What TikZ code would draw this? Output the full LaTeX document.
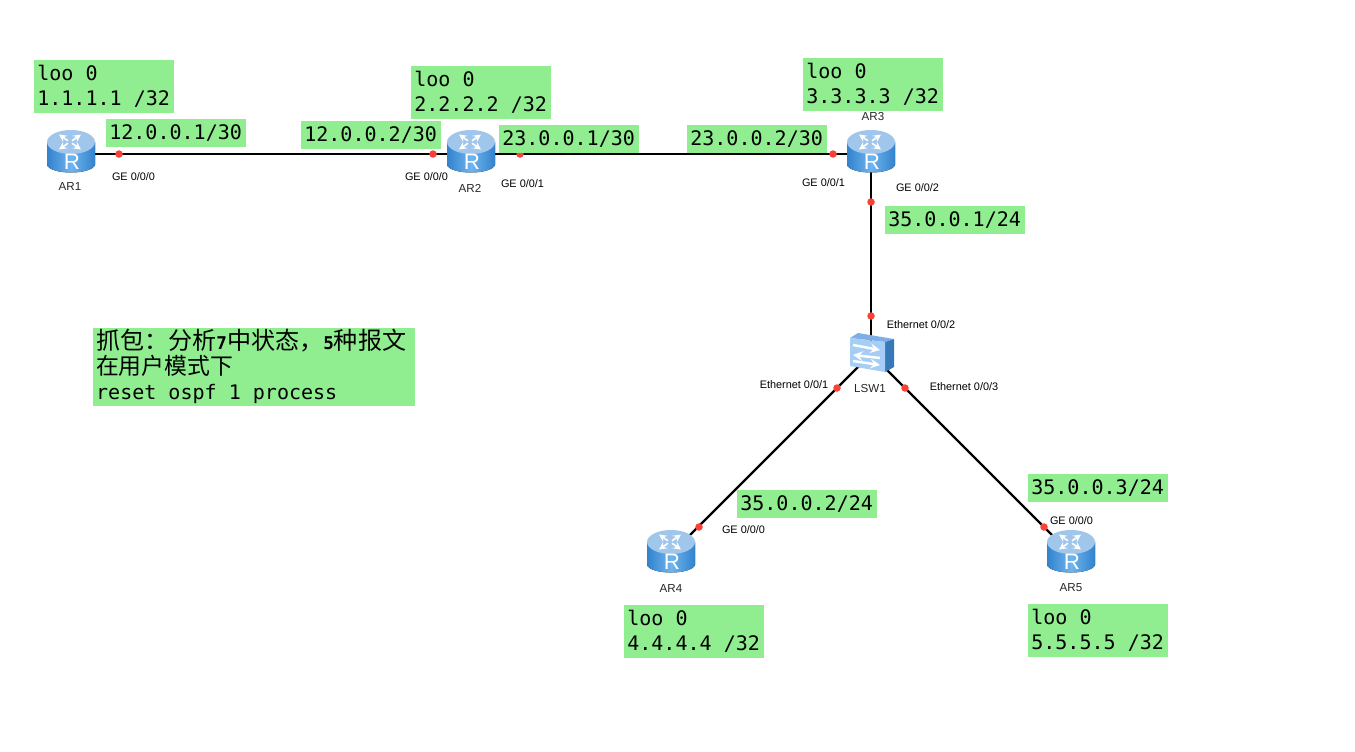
\documentclass[tikz,border=0pt]{standalone}
\usepackage{fontspec}
\setmainfont{Liberation Sans}
\setmonofont{DejaVu Sans Mono}
\newfontfamily\cjk{Noto Sans CJK SC}
\usepackage{tikz}
\definecolor{boxgreen}{RGB}{144,238,144}
\definecolor{portred}{RGB}{250,65,55}
\definecolor{routertop}{RGB}{160,198,235}
\definecolor{routerdark}{RGB}{50,130,205}
\definecolor{routerlight}{RGB}{110,180,238}
\definecolor{switchfront}{RGB}{165,205,245}
\definecolor{switchtop}{RGB}{125,175,230}
\definecolor{switchside}{RGB}{55,120,185}
\tikzset{
    pics/routericon/.style={code={
        \fill[left color=routerdark, right color=routerdark, middle color=routerlight]
            (-24,-12) -- (-24,11) .. controls (-20,21) and (20,21) .. (24,11) -- (24,-12) -- cycle;
        \fill[routertop] (0,-12) ellipse [x radius=0.48cm, y radius=0.24cm];
        \foreach \sx/\sy in {1/1,1/-1,-1/1,-1/-1}
            \draw[white, line width=0.9pt, ->, >=stealth] ({-1+2*\sx},{-12+1.2*\sy}) -- ({-1+11*\sx},{-12+7.5*\sy});
        \node[text=white, inner sep=0pt, font=\fontsize{12.7}{13}\selectfont] at (1,8) {R};
    }},
    pics/switchicon/.style={code={
        \fill[switchtop] (-21,-16) -- (-13,-21) -- (23,-15) -- (14,-12) -- cycle;
        \fill[switchside] (14,-12) -- (23,-15) -- (23,13) -- (14,18) -- cycle;
        \fill[switchfront] (-21,-16) -- (14,-12) -- (14,18) -- (-21,12) -- cycle;
        \draw[white, line width=1.4pt, ->, >=stealth] (-18,-9) -- (9,-4);
        \draw[white, line width=1.4pt, ->, >=stealth] (9,4) -- (-18,1);
        \draw[white, line width=1.4pt, ->, >=stealth] (-18,7) -- (9,11);
    }}
}
\begin{document}
\begin{tikzpicture}[x=0.02cm,y=-0.02cm,line width=1.3pt]
            \tikzstyle{addrbox}=[fill=boxgreen, anchor=north west, minimum width=2.8cm, minimum height=0.56cm, inner sep=0pt, font=\ttfamily\fontsize{11.4}{14.3}\selectfont]
            \tikzstyle{loopbox}=[addrbox, minimum height=1.06cm, align=left]
            \tikzstyle{notebox}=[addrbox, minimum width=6.44cm, minimum height=1.56cm, text width=6.3cm, align=flush left]
            \tikzstyle{portlabel}=[font=\fontsize{6.2}{7}\selectfont, inner sep=0pt]
            \tikzstyle{devlabel}=[font=\fontsize{6.6}{8}\selectfont, text=black!85, inner sep=0pt]
            \tikzstyle{devbox}=[minimum width=0.9cm, minimum height=0.7cm, inner sep=0pt]
            \tikzstyle{port}=[circle, fill=portred, minimum size=0.15cm, inner sep=0pt]
            \useasboundingbox (0,0) rectangle (1355,751);

            \node[devbox] (ar1) at (71,154) {};
            \node[devbox] (ar2) at (471,154) {};
            \node[devbox] (ar3) at (871,154) {};
            \node[devbox] (ar4) at (671,554) {};
            \node[devbox] (ar5) at (1071,554) {};
            \node[devbox] (lsw1) at (871,354) {};

            \draw (ar1.center) -- (ar2.center);
            \draw (ar2.center) -- (ar3.center);
            \draw (ar3.center) -- (lsw1.center);
            \draw (lsw1.center) -- (ar4.center);
            \draw (lsw1.center) -- (ar5.center);

            \pic at (ar1) {routericon};
            \pic at (ar2) {routericon};
            \pic at (ar3) {routericon};
            \pic at (ar4) {routericon};
            \pic at (ar5) {routericon};
            \pic at (lsw1) {switchicon};

            \node[port] (p1) at (119,154) {};
            \node[port] (p2) at (433,154) {};
            \node[port] (p3) at (520,154) {};
            \node[port] (p4) at (833,154) {};
            \node[port] (p5) at (871,202) {};
            \node[port] (p6) at (871,316) {};
            \node[port] (p7) at (837,388) {};
            \node[port] (p8) at (905,388) {};
            \node[port] (p9) at (699,527) {};
            \node[port] (p10) at (1044,527) {};

            \node[devlabel] (l1) at (70,187) {AR1};
            \node[devlabel] (l2) at (470,188) {AR2};
            \node[devlabel] (l3) at (873,117) {AR3};
            \node[devlabel] (l4) at (671,588) {AR4};
            \node[devlabel] (l5) at (1071,588) {AR5};
            \node[devlabel] (l6) at (870,388) {LSW1};

            \node[portlabel] (g1) at (133.5,177) {GE 0/0/0};
            \node[portlabel] (g2) at (426.5,177) {GE 0/0/0};
            \node[portlabel] (g3) at (522.5,184) {GE 0/0/1};
            \node[portlabel] (g4) at (823.5,183) {GE 0/0/1};
            \node[portlabel] (g5) at (917.5,188) {GE 0/0/2};
            \node[portlabel] (g6) at (743.5,530) {GE 0/0/0};
            \node[portlabel] (g7) at (1071.5,521) {GE 0/0/0};
            \node[portlabel] (e2) at (921,325) {Ethernet 0/0/2};
            \node[portlabel] (e1) at (794,385) {Ethernet 0/0/1};
            \node[portlabel] (e3) at (964,387) {Ethernet 0/0/3};

            \node[loopbox] (loo1) at (32.5,58.5) {loo 0\\1.1.1.1 /32};
            \node[loopbox] (loo2) at (409.5,64.5) {loo 0\\2.2.2.2 /32};
            \node[loopbox] (loo3) at (801.5,56.5) {loo 0\\3.3.3.3 /32};
            \node[loopbox] (loo4) at (622.5,603.5) {loo 0\\4.4.4.4 /32};
            \node[loopbox] (loo5) at (1026.5,602.5) {loo 0\\5.5.5.5 /32};

            \node[addrbox] (a1) at (104.5,117.5) {12.0.0.1/30};
            \node[addrbox] (a2) at (299.5,119.5) {12.0.0.2/30};
            \node[addrbox] (a3) at (497.5,123.5) {23.0.0.1/30};
            \node[addrbox] (a4) at (685.5,123.5) {23.0.0.2/30};
            \node[addrbox] (a5) at (883.5,204.5) {35.0.0.1/24};
            \node[addrbox] (a6) at (735.5,488.5) {35.0.0.2/24};
            \node[addrbox] (a7) at (1026.5,472.5) {35.0.0.3/24};

            \node[notebox] (note) at (91.5,326.5) {{\cjk\fontsize{13.7}{15}\selectfont 抓包：分析{\ttfamily\bfseries\fontsize{10}{15}\selectfont 7}中状态，{\ttfamily\bfseries\fontsize{10}{15}\selectfont 5}种报文}\\{\cjk\fontsize{13}{15}\selectfont 在用户模式下}\\reset ospf 1 process\\[2pt]};
        \end{tikzpicture}
\end{document}
